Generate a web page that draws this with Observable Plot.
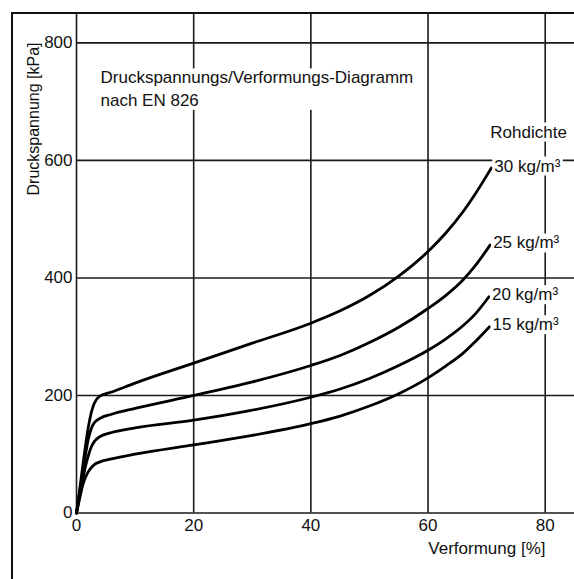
<!DOCTYPE html>
<html><head><meta charset="utf-8">
<script src="https://cdn.jsdelivr.net/npm/d3@7"></script>
<script src="https://cdn.jsdelivr.net/npm/@observablehq/plot@0.6"></script>
<style>
body{margin:0;background:#fff;}
#wrap{position:relative;width:574px;height:579px;overflow:hidden}
#border{position:absolute;left:11px;top:12px;width:600px;height:600px;border-left:2px solid #111;border-top:2px solid #111;pointer-events:none}
</style></head><body><div id="wrap"></div>
<script>
// Tick values
const xTicks = [0, 20, 40, 60, 80];
const yTicks = [0, 200, 400, 600, 800];

// Series labels (Rohdichte)
const seriesLabels = ["30 kg/m³", "25 kg/m³", "20 kg/m³", "15 kg/m³"];

// Verformung [%] (strain) and Druckspannung [kPa] (stress) for each density
const strain30 = [0, 0.5, 1, 1.5, 2, 2.5, 3, 4, 6, 10, 20, 30, 40, 45, 50, 55, 60, 63, 66, 68, 70.8];
const stress30 = [0, 37, 75, 112, 145, 170, 186, 199, 206, 221, 255, 289, 323, 344, 370, 403, 445, 476, 513, 542, 587];

const strain25 = [0, 0.5, 1, 1.5, 2, 2.5, 3, 4, 6, 10, 20, 30, 40, 45, 50, 55, 60, 63, 66, 68, 70.6];
const stress25 = [0, 32, 65, 97, 125, 143, 153, 161, 168, 178, 200, 223, 251, 268, 290, 316, 348, 370, 397, 420, 456];

const strain20 = [0, 0.5, 1, 1.5, 2, 2.5, 3, 4, 6, 10, 20, 30, 40, 45, 50, 55, 60, 63, 66, 68, 70.4];
const stress20 = [0, 27, 54, 78, 97, 112, 121, 130, 137, 145, 158, 175, 197, 211, 229, 251, 277, 296, 319, 338, 368];

const strain15 = [0, 0.5, 1, 1.5, 2, 2.5, 3, 4, 6, 10, 20, 30, 40, 45, 50, 55, 60, 63, 66, 68, 70.5];
const stress15 = [0, 23, 45, 60, 70, 77, 82, 87, 92, 100, 116, 132, 152, 165, 182, 203, 230, 250, 272, 291, 317];

const titleText = "Druckspannungs/Verformungs-Diagramm\nnach EN 826";
const legendTitle = "Rohdichte";
const xLabel = "Verformung [%]";
const yLabel = "Druckspannung [kPa]";

const seriesX = [strain30, strain25, strain20, strain15];
const seriesY = [stress30, stress25, stress20, stress15];
const rows = [];
const ends = [];
seriesLabels.forEach((lab, i) => {
  seriesX[i].forEach((x, j) => rows.push({series: lab, strain: x, stress: seriesY[i][j]}));
  const n = seriesX[i].length - 1;
  ends.push({series: lab, strain: seriesX[i][n], stress: seriesY[i][n]});
});

const chart = Plot.plot({
  width: 574, height: 579,
  marginLeft: 76, marginRight: 0, marginTop: 13, marginBottom: 66.5,
  x: {domain: [0, 85]},
  y: {domain: [0, 850]},
  style: {fontFamily: "'Liberation Sans', Arial, sans-serif", fontSize: "17px", color: "#111", background: "white"},
  marks: [
    Plot.ruleX(xTicks, {stroke: "#1a1a1a", strokeWidth: 1.6}),
    Plot.ruleY(yTicks, {stroke: "#1a1a1a", strokeWidth: 1.6}),
    Plot.axisX({ticks: xTicks, tickSize: 0, tickPadding: 6, label: null, tickFormat: d => String(d)}),
    Plot.axisY({ticks: yTicks, tickSize: 0, tickPadding: 4, label: null, tickFormat: d => String(d)}),
    Plot.line(rows, {x: "strain", y: "stress", z: "series", curve: "monotone-x", stroke: "#000", strokeWidth: 2.8}),
    Plot.text(ends, {x: "strain", y: "stress", text: "series", dx: 3, dy: -2, textAnchor: "start", className: "bgtxt"}),
    Plot.text(ends.slice(0, 1), {x: "strain", y: "stress", text: () => legendTitle, dx: -1, dy: -36, textAnchor: "start", className: "bgtxt"}),
    Plot.text([titleText], {frameAnchor: "top-left", dx: 24, dy: 54, lineAnchor: "top", textAnchor: "start", lineHeight: 1.32, className: "bgtxt"}),
    Plot.text([yLabel], {frameAnchor: "top-left", dx: -49, dy: 29, rotate: -90, textAnchor: "end", fontSize: 16}),
    Plot.text([xLabel], {frameAnchor: "bottom-right", dx: -29, dy: 41, textAnchor: "end"})
  ]
});

const wrap = document.getElementById("wrap");
wrap.appendChild(chart);
const border = document.createElement("div");
border.id = "border";
wrap.appendChild(border);

// White backgrounds behind annotation texts
const svgns = "http://www.w3.org/2000/svg";
chart.querySelectorAll("g.bgtxt text").forEach(t => {
  const b = t.getBBox();
  const r = document.createElementNS(svgns, "rect");
  r.setAttribute("x", b.x - 2);
  r.setAttribute("y", b.y);
  r.setAttribute("width", b.width + 4);
  r.setAttribute("height", b.height);
  r.setAttribute("fill", "white");
  const tr = t.getAttribute("transform");
  if (tr) r.setAttribute("transform", tr);
  t.parentNode.insertBefore(r, t);
});
</script>
</body></html>
